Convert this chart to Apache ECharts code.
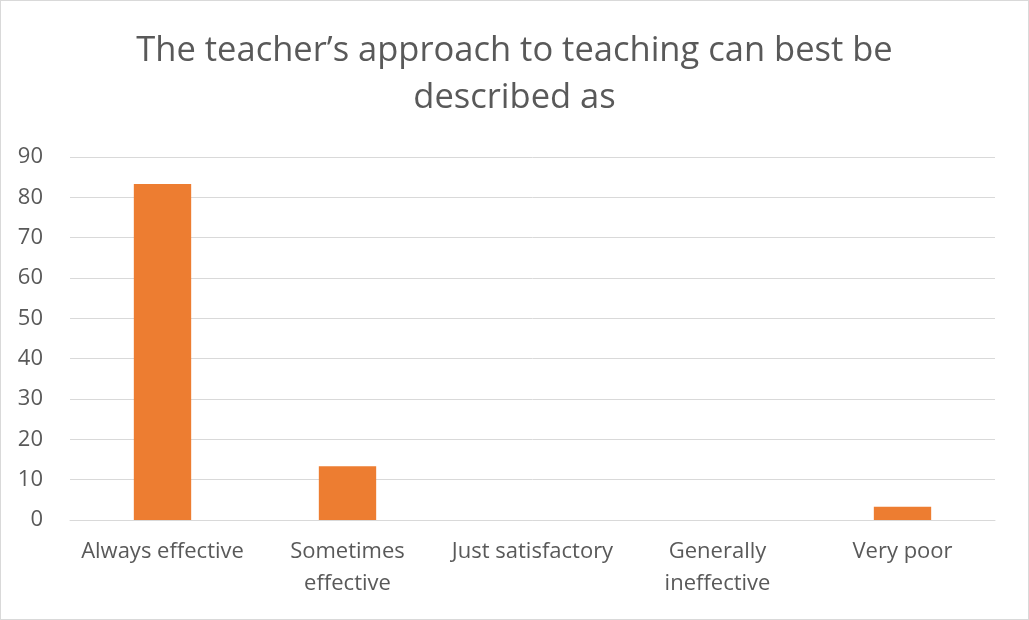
<!DOCTYPE html>
<html>
<head>
<meta charset="utf-8">
<script src="https://cdn.jsdelivr.net/npm/echarts@6/dist/echarts.min.js"></script>
<style>
html,body{margin:0;padding:0;background:#fff;}
#c{width:1027px;height:618px;border:1px solid #d9d9d9;}
</style>
</head>
<body>
<div id="c"></div>
<script>
const titleLines = ["The teacher\u2019s approach to teaching can best be", "described as"];
const categories = ["Always effective", "Sometimes effective", "Just satisfactory", "Generally ineffective", "Very poor"];
const categoryLabels = ["Always effective", "Sometimes\neffective", "Just satisfactory", "Generally\nineffective", "Very poor"];
const values = [83.3, 13.3, 0, 0, 3.3];
const yTicks = [0, 10, 20, 30, 40, 50, 60, 70, 80, 90];

const chart = echarts.init(document.getElementById('c'));
const font = "'Open Sans', 'Noto Sans', sans-serif";
chart.setOption({
  animation: false,
  title: {
    text: titleLines.join('\n'),
    left: 'center',
    top: 22,
    textStyle: {fontFamily: font, fontSize: 34.5, fontWeight: 'normal', color: '#595959', lineHeight: 47}
  },
  grid: {left: 69, right: 33, top: 156, bottom: 99},
  xAxis: {
    type: 'category',
    data: categories,
    axisLine: {lineStyle: {color: '#d9d9d9'}},
    axisTick: {show: false},
    axisLabel: {
      interval: 0,
      color: '#595959', fontFamily: font, fontSize: 22, margin: 16, lineHeight: 32,
      formatter: (v, i) => categoryLabels[i]
    }
  },
  yAxis: {
    type: 'value',
    min: yTicks[0], max: yTicks[yTicks.length - 1], interval: 10,
    axisLine: {show: false},
    axisTick: {show: false},
    splitLine: {lineStyle: {color: '#d9d9d9'}},
    axisLabel: {color: '#595959', fontFamily: font, fontSize: 22, margin: 27}
  },
  series: [{
    type: 'bar',
    data: values,
    barWidth: '31%',
    itemStyle: {color: '#ED7D31'}
  }]
});
</script>
</body>
</html>
